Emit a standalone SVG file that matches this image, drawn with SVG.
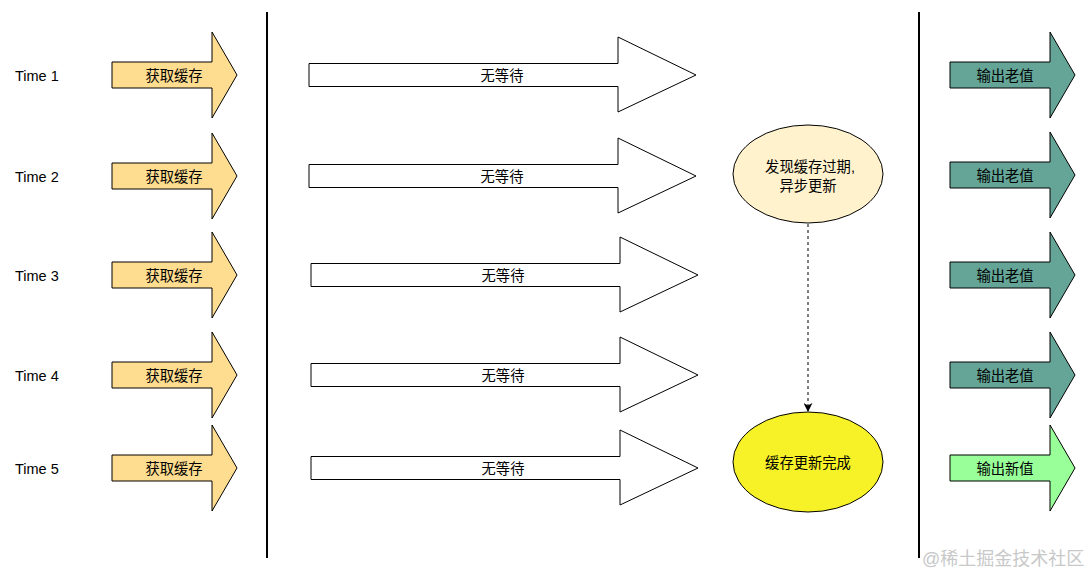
<svg xmlns="http://www.w3.org/2000/svg" width="1090" height="576" viewBox="0 0 1090 576">
<style>
text{font-family:"Liberation Sans","Noto Sans CJK SC",sans-serif;font-size:14.3px;fill:#000}
.t{font-size:14.5px}
.c{text-anchor:middle}
.get{fill:#FFDD90;stroke:#000;stroke-width:1}
.wait{fill:#fff;stroke:#000;stroke-width:1}
.old{fill:#64A597;stroke:#000;stroke-width:1}
.new{fill:#99FF99;stroke:#000;stroke-width:1}
.div{stroke:#000;stroke-width:2}
</style>
<defs>
<polygon id="small" points="0,-13 100,-13 100,-43 125,0 100,43 100,13 0,13"/>
<polygon id="big" points="0,-11.5 309,-11.5 309,-38 387,0 309,37 309,11.5 0,11.5"/>
<marker id="ah" viewBox="0 0 10 10" refX="9" refY="5" markerWidth="9" markerHeight="9" orient="auto" markerUnits="userSpaceOnUse"><path d="M0,0 L10,5 L0,10 L3,5 Z" fill="#000"/></marker>
</defs>
<rect width="1090" height="576" fill="#fff"/>
<g id="dividers">
<line class="div" x1="267" y1="12" x2="267" y2="558"/>
<line class="div" x1="919" y1="12" x2="919" y2="558"/>
</g>
<g id="labels">
<text class="t" x="15" y="81">Time 1</text>
<text class="t" x="15" y="182">Time 2</text>
<text class="t" x="15" y="281">Time 3</text>
<text class="t" x="15" y="381">Time 4</text>
<text class="t" x="15" y="474">Time 5</text>
</g>
<g id="get1"><use href="#small" class="get" x="112" y="75"/><text class="c" x="174" y="81">获取缓存</text></g>
<g id="get2"><use href="#small" class="get" x="112" y="176"/><text class="c" x="174" y="182">获取缓存</text></g>
<g id="get3"><use href="#small" class="get" x="112" y="275"/><text class="c" x="174" y="281">获取缓存</text></g>
<g id="get4"><use href="#small" class="get" x="112" y="375"/><text class="c" x="174" y="381">获取缓存</text></g>
<g id="get5"><use href="#small" class="get" x="112" y="468"/><text class="c" x="174" y="474">获取缓存</text></g>
<g id="wait1"><use href="#big" class="wait" x="309" y="75"/><text class="c" x="502" y="81">无等待</text></g>
<g id="wait2"><use href="#big" class="wait" x="309" y="176"/><text class="c" x="502" y="182">无等待</text></g>
<g id="wait3"><use href="#big" class="wait" x="311" y="275"/><text class="c" x="503" y="281">无等待</text></g>
<g id="wait4"><use href="#big" class="wait" x="311" y="375"/><text class="c" x="503" y="381">无等待</text></g>
<g id="wait5"><use href="#big" class="wait" x="311" y="468"/><text class="c" x="503" y="474">无等待</text></g>
<g id="expired">
<ellipse cx="808" cy="174" rx="75" ry="49" fill="#FFF2CC" stroke="#000" stroke-width="1"/>
<text class="c" x="810" y="172">发现缓存过期,</text>
<text class="c" x="808" y="191">异步更新</text>
</g>
<g id="done">
<ellipse cx="808" cy="462" rx="75" ry="50" fill="#F7F227" stroke="#000" stroke-width="1"/>
<text class="c" x="808" y="468">缓存更新完成</text>
</g>
<g id="connectors">
<line x1="808" y1="224" x2="808" y2="411" stroke="#000" stroke-width="1" stroke-dasharray="3,3" marker-end="url(#ah)"/>
</g>
<g id="out1"><use href="#small" class="old" x="950" y="75"/><text class="c" x="1005" y="81">输出老值</text></g>
<g id="out2"><use href="#small" class="old" x="950" y="175"/><text class="c" x="1005" y="181">输出老值</text></g>
<g id="out3"><use href="#small" class="old" x="950" y="275"/><text class="c" x="1005" y="281">输出老值</text></g>
<g id="out4"><use href="#small" class="old" x="950" y="375"/><text class="c" x="1005" y="381">输出老值</text></g>
<g id="out5"><use href="#small" class="new" x="950" y="468"/><text class="c" x="1005" y="474">输出新值</text></g>
<text x="922" y="565" style="font-size:18px;fill:#c8c8c8">@稀土掘金技术社区</text>
</svg>
